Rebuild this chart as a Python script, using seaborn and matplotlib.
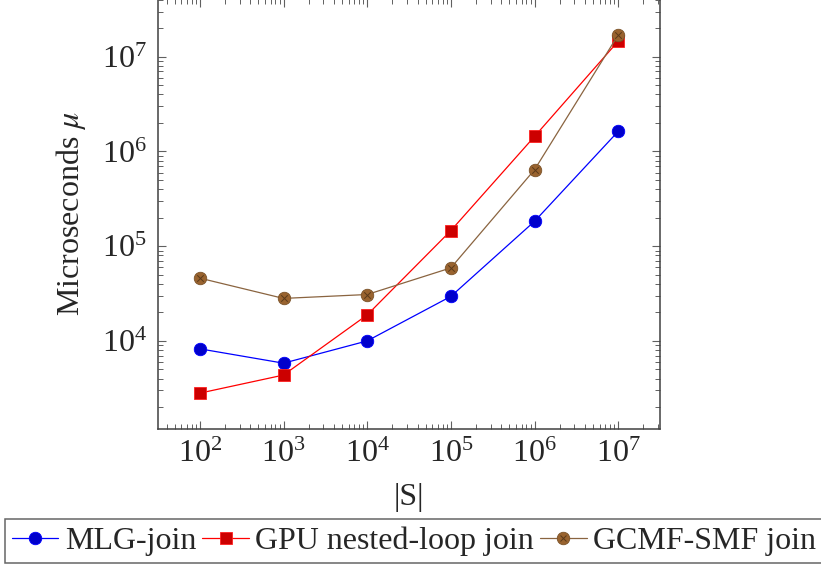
import numpy as np
import pandas as pd
import matplotlib
matplotlib.use("Agg")
import matplotlib.pyplot as plt
import seaborn as sns
from matplotlib.ticker import LogLocator, NullFormatter
from matplotlib.legend_handler import HandlerTuple

# Join runtime versus relation size |S|
sizes = [1e2, 1e3, 1e4, 1e5, 1e6, 1e7]
mlg_join = [8250, 5820, 10000, 29500, 183000, 1630000]
gpu_nested_loop = [2810, 4360, 18800, 146000, 1440000, 14600000]
gcmf_smf = [46000, 28100, 30900, 59000, 641000, 17000000]

series_names = ["MLG-join", "GPU nested-loop join", "GCMF-SMF join"]

sns.set_theme(style="white")
plt.rcParams["font.family"] = ["Liberation Serif", "DejaVu Serif"]
plt.rcParams["mathtext.fontset"] = "stix"
plt.rcParams["font.size"] = 23
plt.rcParams["xtick.bottom"] = True
plt.rcParams["ytick.left"] = True

fig = plt.figure(figsize=(8.21, 5.67), dpi=100)
ax = fig.add_axes([158 / 821, 1 - 429 / 567, (660 - 158) / 821, (429 + 1) / 567])

df = pd.DataFrame({"size": sizes, "mlg": mlg_join, "gpu": gpu_nested_loop, "gcmf": gcmf_smf})

sns.lineplot(data=df, x="size", y="mlg", ax=ax, color="#0000ff", lw=0.9,
             marker="o", markersize=9, markerfacecolor="#0000cc",
             markeredgecolor="#0000ff", markeredgewidth=0.6)
sns.lineplot(data=df, x="size", y="gpu", ax=ax, color="#ff0000", lw=0.9,
             marker="s", markersize=8.5, markerfacecolor="#cc0000",
             markeredgecolor="#ff2020", markeredgewidth=0.6)
sns.lineplot(data=df, x="size", y="gcmf", ax=ax, color="#8a6440", lw=0.9,
             marker="o", markersize=9, markerfacecolor="#99632f",
             markeredgecolor="#7a5228", markeredgewidth=0.6)
sns.scatterplot(data=df, x="size", y="gcmf", ax=ax, marker="x", s=22,
                color="#5a3a1a", linewidth=0.7, zorder=5)

ax.set_xscale("log")
ax.set_yscale("log")
ax.set_xlim(10 ** 1.5, 10 ** 7.5)
ax.set_ylim(10 ** 3.07, 10 ** 7.61)

ax.xaxis.set_major_locator(LogLocator(base=10, numticks=20))
ax.yaxis.set_major_locator(LogLocator(base=10, numticks=20))
ax.xaxis.set_minor_locator(LogLocator(base=10, subs=np.arange(2, 10), numticks=20))
ax.yaxis.set_minor_locator(LogLocator(base=10, subs=np.arange(2, 10), numticks=20))
ax.xaxis.set_minor_formatter(NullFormatter())
ax.yaxis.set_minor_formatter(NullFormatter())

ax.tick_params(which="both", direction="in", bottom=True, left=True, top=True, right=True,
               color="#606060")
ax.tick_params(which="major", length=6, width=0.8, labelsize=23, pad=8)
ax.tick_params(which="minor", length=3.5, width=0.7)
for sp in ax.spines.values():
    sp.set_color("#404040")
    sp.set_linewidth(1.1)

ax.set_xlabel("|S|", fontsize=23, labelpad=10)
ax.set_ylabel(r"Microseconds $\mu$", fontsize=23, labelpad=10)

lines = ax.get_lines()
h_mlg = lines[0]
h_gpu = lines[1]
h_gcmf = lines[2]
cross = plt.Line2D([], [], ls="none", marker="x", markersize=4.5, color="#5a3a1a", mew=0.7)
leg = fig.legend([h_mlg, h_gpu, (h_gcmf, cross)], series_names,
                 loc="lower center", bbox_to_anchor=(414 / 821, 4 / 567),
                 ncol=3, frameon=True, fancybox=False, fontsize=23,
                 handlelength=1.45, handletextpad=0.2, columnspacing=0.2,
                 borderpad=0.22, borderaxespad=0,
                 handler_map={tuple: HandlerTuple(ndivide=1)})
leg.get_frame().set_edgecolor("#404040")
leg.get_frame().set_linewidth(1.1)

fig.savefig("out.png", dpi=100)
